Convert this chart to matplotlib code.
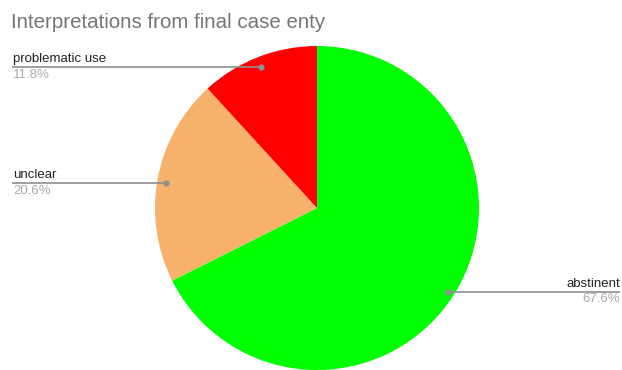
import numpy as np
import matplotlib
matplotlib.use("Agg")
import matplotlib.pyplot as plt

labels = ["abstinent", "unclear", "problematic use"]
values = [67.6, 20.6, 11.8]
colors = ["#00ff00", "#f6b26b", "#ff0000"]

plt.rcParams['font.family'] = ['Liberation Sans', 'DejaVu Sans']

W, H = 622, 370
fig = plt.figure(figsize=(W / 100, H / 100), dpi=100)
ax = fig.add_axes([0, 0, 1, 1])

cx, cy, r = 317, 208, 162
# pie drawn clockwise from 12 o'clock; y axis inverted so counterclock=True appears clockwise
wedges, _ = ax.pie(values, colors=colors, startangle=-90, counterclock=True,
                   center=(cx, cy), radius=r, frame=True,
                   wedgeprops=dict(linewidth=0))
ax.set_xlim(0, W)
ax.set_ylim(H, 0)
ax.set_aspect("equal")
ax.axis("off")

# label layout: (line y, line end x, text side)
layout = {
    "problematic use": (67, 12, "left"),
    "unclear": (183, 12, "left"),
    "abstinent": (292, 620, "right"),
}

for w, lab, val in zip(wedges, labels, values):
    mid = np.deg2rad((w.theta1 + w.theta2) / 2)
    px = cx + 0.95 * r * np.cos(mid)
    py = cy + 0.95 * r * np.sin(mid)
    ly, ex, side = layout[lab]
    ax.plot([px, ex], [ly, ly], color="#8f8f8f", lw=1.2, solid_capstyle="butt")
    ax.plot([px], [ly], "o", color="#8f8f8f", ms=3.5)
    ha = "left" if side == "left" else "right"
    tx = ex + (1 if side == "left" else 0)
    ax.text(tx, ly - 2, lab, ha=ha, va="bottom", fontsize=9.5, color="#222222")
    ax.text(tx, ly + 1.5, f"{val:.1f}%", ha=ha, va="top", fontsize=9.5, color="#aaaaaa")

ax.text(11, 22, "Interpretations from final case enty", ha="left", va="center",
        fontsize=14.8, color="#757575")

fig.savefig("out.png", dpi=100)
